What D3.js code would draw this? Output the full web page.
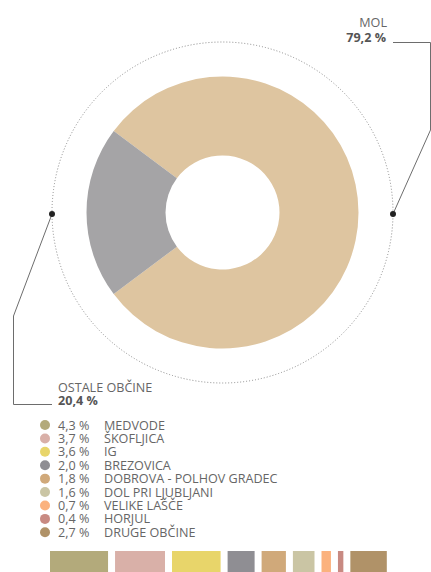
<!DOCTYPE html>
<html>
<head>
<meta charset="utf-8">
<script src="https://cdn.jsdelivr.net/npm/d3@7"></script>
<style>
  body { margin: 0; background: #fff; }
  svg { display: block; font-family: "Open Sans", sans-serif; }
</style>
</head>
<body>
<svg id="chart" width="431" height="572"></svg>
<script>
// donut data
const mainLabels = ["MOL", "OSTALE OBČINE"];
const mainValues = [79.2, 20.4];
const mainColors = ["#dec5a0", "#a5a4a6"];

// breakdown of "ostale občine"
const otherLabels = ["MEDVODE", "ŠKOFLJICA", "IG", "BREZOVICA", "DOBROVA - POLHOV GRADEC",
  "DOL PRI LJUBLJANI", "VELIKE LAŠČE", "HORJUL", "DRUGE OBČINE"];
const otherValues = [4.3, 3.7, 3.6, 2.0, 1.8, 1.6, 0.7, 0.4, 2.7];
const otherColors = ["#b3aa7b", "#d9b0a8", "#e8d56a", "#8f8e93", "#d0a97a",
  "#cac5a4", "#fbb27e", "#c88a82", "#b09268"];

const fmt = v => v.toFixed(1).replace(".", ",") + " %";

const svg = d3.select("#chart");
const cx = 222.5, cy = 212.5;
const rOuter = 136, rInner = 57, rDots = 170.5;
const fs = 12.6;

const g = svg.append("g").attr("transform", `translate(${cx},${cy})`);

// dotted guide circle
g.append("circle")
  .attr("r", rDots)
  .attr("fill", "none")
  .attr("stroke", "#8a8a8a")
  .attr("stroke-width", 1)
  .attr("stroke-dasharray", "1 2");

// gray slice centered on the left side
const total = d3.sum(mainValues);
const grayAngle = mainValues[1] / total * 2 * Math.PI;
const pie = d3.pie().sort(null)
  .startAngle(-Math.PI / 2 + grayAngle / 2)
  .endAngle(-Math.PI / 2 + grayAngle / 2 + 2 * Math.PI);
const arc = d3.arc().innerRadius(rInner).outerRadius(rOuter);

g.selectAll("path.slice")
  .data(pie(mainValues))
  .enter().append("path")
  .attr("class", "slice")
  .attr("d", arc)
  .attr("fill", (d, i) => mainColors[i]);

// leader lines
const lineColor = "#6d6d6d";
const rightDot = [cx + rDots, cy + 1.5];
const leftDot = [cx - rDots, cy + 1.5];

svg.append("path")
  .attr("d", d3.line()([rightDot, [430.5, 130], [430.5, 42.5], [393, 42.5]]))
  .attr("fill", "none").attr("stroke", lineColor).attr("stroke-width", 1);
svg.append("path")
  .attr("d", d3.line()([leftDot, [13.5, 316], [13.5, 404.5], [52, 404.5]]))
  .attr("fill", "none").attr("stroke", lineColor).attr("stroke-width", 1);

svg.selectAll("circle.dot")
  .data([rightDot, leftDot])
  .enter().append("circle")
  .attr("class", "dot")
  .attr("cx", d => d[0]).attr("cy", d => d[1])
  .attr("r", 3).attr("fill", "#222");

// labels
const txt = "#666";
const bold = "#555";
svg.append("text").attr("x", 387).attr("y", 27).attr("text-anchor", "end")
  .attr("font-size", fs).attr("fill", txt).text(mainLabels[0]);
svg.append("text").attr("x", 386).attr("y", 42).attr("text-anchor", "end")
  .attr("font-size", fs).attr("font-weight", 700).attr("fill", bold).text(fmt(mainValues[0]));
svg.append("text").attr("x", 58).attr("y", 392)
  .attr("font-size", fs).attr("fill", txt).text(mainLabels[1]);
svg.append("text").attr("x", 58).attr("y", 404.5)
  .attr("font-size", fs).attr("font-weight", 700).attr("fill", bold).text(fmt(mainValues[1]));

// legend list
const legY = d3.scalePoint().domain(otherLabels).range([425, 532.3]);
const leg = svg.selectAll("g.leg")
  .data(otherLabels)
  .enter().append("g")
  .attr("class", "leg")
  .attr("transform", d => `translate(0,${legY(d)})`);
leg.append("circle").attr("cx", 45).attr("cy", 0).attr("r", 5)
  .attr("fill", (d, i) => otherColors[i]);
leg.append("text").attr("x", 58).attr("y", 4.5)
  .attr("font-size", fs).attr("fill", txt).text((d, i) => fmt(otherValues[i]));
leg.append("text").attr("x", 104).attr("y", 4.5)
  .attr("font-size", fs).attr("fill", txt).text(d => d);

// proportional bars at the bottom
const gap = 7;
const bx = d3.scaleLinear().domain([0, d3.sum(otherValues)]).range([50, 50 + d3.sum(otherValues) * 13.5]);
const starts = d3.cumsum([0, ...otherValues.slice(0, -1)]);
svg.selectAll("rect.bar")
  .data(otherValues)
  .enter().append("rect")
  .attr("class", "bar")
  .attr("x", (d, i) => bx(starts[i]) + i * gap)
  .attr("y", 551)
  .attr("width", d => bx(d) - bx(0))
  .attr("height", 21)
  .attr("fill", (d, i) => otherColors[i]);
</script>
</body>
</html>
